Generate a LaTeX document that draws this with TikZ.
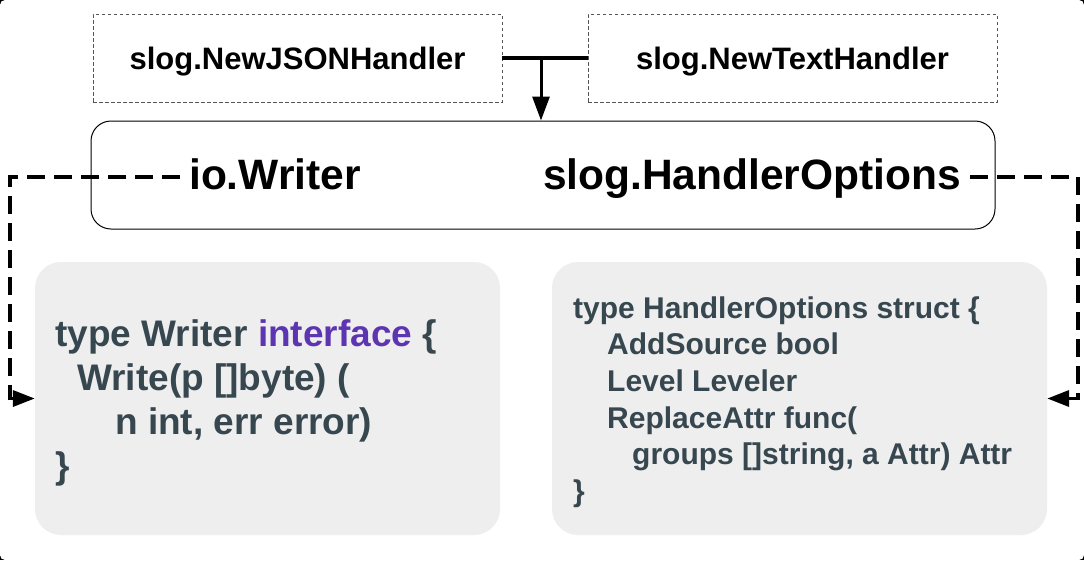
\documentclass[tikz,border=0pt]{standalone}
\usepackage{fontspec}
\setmainfont{Liberation Sans}
\usetikzlibrary{arrows.meta,calc}
\definecolor{codetxt}{HTML}{37474F}
\definecolor{kw}{HTML}{5E35B1}
\definecolor{codebg}{HTML}{EEEEEE}
\definecolor{dgray}{HTML}{555555}
\newcommand{\lowerby}[1]{\raisebox{-4pt}[\height][\depth]{#1}}
\begin{document}
\begin{tikzpicture}[x=1pt,y=-1pt,
  ctor/.style={draw=dgray,line width=0.9pt,dash pattern=on 3.5pt off 2.5pt,minimum width=409pt,minimum height=88pt,font=\fontsize{31}{36}\selectfont\bfseries},
  mainbox/.style={draw=black,line width=1pt,rounded corners=20pt,minimum width=904pt,minimum height=108pt},
  bigtxt/.style={font=\fontsize{42.5}{48}\selectfont\bfseries,inner ysep=0pt,inner xsep=9pt,text height=31pt,text depth=9pt},
  codebox/.style={fill=codebg,rounded corners=26pt,minimum height=273pt},
  code/.style={text=codetxt,align=left,anchor=west,inner sep=0pt,font=\bfseries},
  dashconn/.style={line width=3.5pt,dash pattern=on 18pt off 9pt,-{Triangle[length=22pt,width=16pt]}}
]
\useasboundingbox (0,0) rectangle (1084,560);
\fill[black] (0,0) rectangle (1084,560);
\fill[white,rounded corners=5pt] (0,0) rectangle (1084,560);

\node[ctor] (json) at (297.5,58) {\lowerby{slog.NewJSONHandler}};
\node[ctor] (texth) at (792.5,58) {\lowerby{slog.NewTextHandler}};
\node[mainbox] (main) at (543,175) {};
\node[bigtxt] (iow) at (275,178.5) {io.Writer};
\node[bigtxt] (hopt) at (752,178.5) {slog.HandlerOptions};
\coordinate (dl) at (10,177);
\coordinate (dr) at (1078,177);

\node[codebox,minimum width=465pt] (wbox) at (267.5,398.5) {};
\node[codebox,minimum width=495pt] (obox) at (799.5,398.5) {};

\node[code,font=\fontsize{37}{44}\selectfont\bfseries] (wcode) at (55,403) {type Writer \textcolor{kw}{interface} \{\\
\hspace*{22pt}Write(p []byte) (\\
\hspace*{60pt}n int, err error)\\
\}};
\node[code,font=\fontsize{30}{36.6}\selectfont\bfseries] (ocode) at (573,402) {type HandlerOptions struct \{\\
\hspace*{34pt}AddSource bool\\
\hspace*{34pt}Level Leveler\\
\hspace*{34pt}ReplaceAttr func(\\
\hspace*{59pt}groups []string, a Attr) Attr\\
\}};

\draw[line width=4pt] (json.east) -- (texth.west);
\coordinate (j) at (541,58);
\draw[line width=3pt,-{Triangle[length=24pt,width=17pt]}] (j) -- (j |- main.north);

\draw[dashconn] (iow.west |- dl) -- (dl) -- (dl |- wbox.west) -- (wbox.west);
\draw[dashconn] (hopt.east |- dr) -- (dr) -- (dr |- obox.east) -- (obox.east);
\end{tikzpicture}
\end{document}
